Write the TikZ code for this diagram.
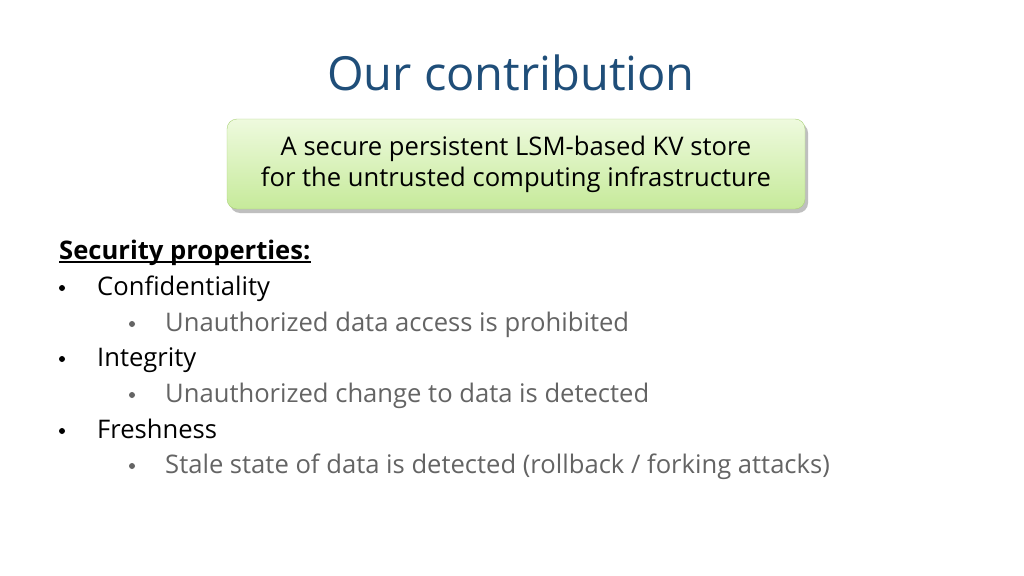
\documentclass[tikz,border=0pt]{standalone}
\usepackage{fontspec}
\setmainfont{Open Sans}
\definecolor{titleblue}{RGB}{31,78,121}
\definecolor{subgray}{RGB}{100,100,100}
\definecolor{boxtop}{RGB}{238,250,222}
\definecolor{boxbot}{RGB}{198,234,154}
\definecolor{boxedge}{RGB}{170,210,120}
\begin{document}
\begin{tikzpicture}[x=1pt,y=-1pt,
  main/.style={anchor=base west,font=\fontsize{25.6}{30}\selectfont,text=black,inner sep=0},
  sub/.style={anchor=base west,font=\fontsize{25.6}{30}\selectfont,text=subgray,inner sep=0},
  bul/.style={circle,fill,inner sep=0,minimum size=6pt}]
\useasboundingbox (0,0) rectangle (1024,575);
\fill[white] (0,0) rectangle (1024,575);
\node[font=\fontsize{47}{50}\selectfont,text=titleblue] (title) at (511,73) {Our contribution};
\fill[black!25,rounded corners=10pt] (230,123) rectangle (808,213);
\node[draw=boxedge,rounded corners=10pt,top color=boxtop,bottom color=boxbot,minimum width=578pt,minimum height=90pt,align=center,font=\fontsize{25.6}{31}\selectfont] (box) at (516,164) {A secure persistent LSM-based KV store\\for the untrusted computing infrastructure};
\node[main,font=\fontsize{25.6}{30}\selectfont\bfseries] (sp) at (59,259) {Security properties:};
\draw[line width=1.5pt] ([yshift=-3pt]sp.base west) -- ([yshift=-3pt]sp.base east);
\node[bul] (b1) at (62,288) {}; \node[main] (t1) at (97,295) {Confidentiality};
\node[bul,fill=subgray] (b2) at (132,324) {}; \node[sub] (t2) at (165,331) {Unauthorized data access is prohibited};
\node[bul] (b3) at (62,359) {}; \node[main] (t3) at (97,366) {Integrity};
\node[bul,fill=subgray] (b4) at (132,395) {}; \node[sub] (t4) at (165,402) {Unauthorized change to data is detected};
\node[bul] (b5) at (62,431) {}; \node[main] (t5) at (97,438) {Freshness};
\node[bul,fill=subgray] (b6) at (132,466) {}; \node[sub] (t6) at (165,473) {Stale state of data is detected (rollback / forking attacks)};
\end{tikzpicture}
\end{document}
